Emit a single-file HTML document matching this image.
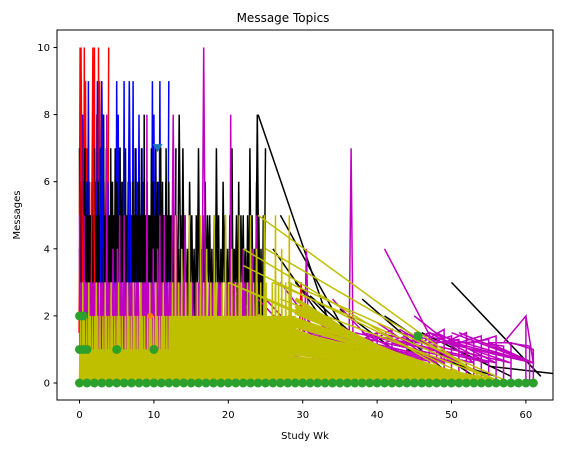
<!DOCTYPE html>
<html><head><meta charset="utf-8"><style>
body{margin:0;background:#fff;font-family:"Liberation Sans","DejaVu Sans",sans-serif}
svg text{font-family:"DejaVu Sans","Liberation Sans",sans-serif;font-size:10px;fill:#000}
</style></head><body>
<svg id="chart" width="566" height="453" xmlns="http://www.w3.org/2000/svg">
<rect width="566" height="453" fill="#fff"/>
<defs><clipPath id="clip"><rect x="57" y="30" width="496" height="370"/></clipPath></defs>
<g id="plot" clip-path="url(#clip)"></g>
<rect x="57" y="30" width="496" height="370" fill="none" stroke="#000" stroke-width="1"/>
<g id="axes"></g>
<text x="283" y="22" text-anchor="middle" style="font-size:12px">Message Topics</text>
<text x="305" y="439" text-anchor="middle">Study Wk</text>
<text x="20" y="215" text-anchor="middle" transform="rotate(-90 20 215)">Messages</text>
</svg>
<script>
const xTicks=[0,10,20,30,40,50,60];
const yTicks=[0,2,4,6,8,10];
const redY=[5,10,3,6,2,8,4,1,10,3,9,5,2,7,1,4,3,6,2,5,1,3,7,2];
const blueY=[4,2,9,1,8,3,6,2,5,4,6,3,9,2,5,1,4,3,5,2,6,1,4,3,9,2,5,3,7,2,6,4,8,3,5,2,7,1,6,3,5,2,4,6,3,5,2,4];
const blackY=[7,3,5,3,6,3,5,4,5,3,5,3,7,3,5,3,5,4,6,3,5,3,5,3,5,4,5,3,6,3,5,3,5,3,7,3,5,4,5,3,5,3,6,3,5,3,5,4,7,3,5,3,5,3,8,3,5,3,5,4,6,3,5,3,5,3,5,4,5,3,7,3,5,3,6,3,5,3,5,4,7,3,5,3,6,3,5,3,5,4,7];
const blackRightY=[5,2,4,1,5,2,7,3,5,1,4,2,6,3,5,2,4,1,5,3,7,2,4,3,5,1,6,2,5,3];
const magentaY=[5,1,3,0,3,1,2,0,3,1,5,0,3,1,2,0,3,1,3,0,2,1,3,0,2,3,0,3,1,2,0,3,1,3,0,2,1,3,0,2,3,0,3,1,2,0,1,3,0,3,2,3,0,2,1,3,0,3,1,2,0,8,1,3,0,3,1,2,0,3,1,3,0,2,1,4,0,3,1,2,0,3,1,3,0,4,1,2,0,3];
const yellowLeftY=[0,1,0,2,0,1,0,1,0,3,0,1,0,2,0,1,0,1,0,2,0,1,0,1,0,3,0,1,0,2,0,1,0,1,0,2,0,1,0,1,0,2,0,1,0,3,0,1,0,2,0,1,0,1,0,2,0,1,0,1];
const yellowRightY=[0,2,0,2,1,0,2,0,3,0,2,1,0,2,0,5,0,2,1,0,2,0,3,0,2,1,0,2,0,4,0,2,1,0,2,0,2,0,3,1,0,2,0,2,1,0,5,0,2,0,3,0,2,1,0,2];
const spikeX=[16.7,12.6,23.9,13.4,1.8,0.2,6.7,3.0,30.5,36.5,29.8];
const spikeY=[10,8,8,8,10,10,9,9,4,7,3];
const spikeC=['#bf00bf','#bf00bf','#000','#000','#f00','#f00','#00f','#00f','#bf00bf','#bf00bf','#f00'];
const fanStartY=[2.5,2.3,2.1,1.9,1.7,1.5,1.3,1.1,0.9,0.7,0.5,0.3,0.1,2.2,1.8,1.4,1.0,0.6,0.2];
const fanEndX=[47,50,52,54,55,56,57,57,57,57,57,57,57,49,51,53,55,56,57];
const tailStartX=[24,25,22,20,26,27,28,22,20];
const tailStartY=[5,4,4,3,3,2.5,3,3.5,3];
const tailEndX=[55,56,52,50,57,57,58,54,52];
const magTailX=[20,22,25,28,30,33,35,38,40,42,45,47,50,53,55,57,60,61,41,24,27,31,34,43,48];
const magTailY=[3,2,2.5,2,1.5,2,1.2,1.5,1.8,1.2,2,1.5,1.2,1,1.2,1,2,1,4,2.5,3,2,2.5,1.6,1.5];
const magVertX=[40,42,44,46,47,48,49,50,51,52,53,54,55,56,57,58,60,60.5,61];
const magVertY=[1.5,1.6,1.4,1.3,1.5,1.2,1.6,1.4,1.3,1.5,1.2,1.4,1.3,1.4,1.1,1.2,2,1.1,1];
const blackTailX=[24,26,29,33,38,41,46,50,44,39,55,27,31,35];
const blackTailY=[8,4,3,2,2.5,2,1.5,3,1,1.2,0.5,5,2.6,2.2];
const greenX=[0,1,2,3,4,5,6,7,8,9,10,11,12,13,14,15,16,17,18,19,20,21,22,23,24,25,26,27,28,29,30,31,32,33,34,35,36,37,38,39,40,41,42,43,44,45,46,47,48,49,50,51,52,53,54,55,56,57,58,59,60,61];
const greenExtraX=[0,0.5,1,0,0.5,5,10,45.5];
const greenExtraY=[1,1,1,2,2,1,1,1.4];

const sx=v=>79.5+v*7.44, sy=v=>383-v*33.55;
const NS="http://www.w3.org/2000/svg";
const plot=document.getElementById('plot'), axes=document.getElementById('axes');
function line(pts,color,name,w){
  const p=document.createElementNS(NS,'polyline');
  p.setAttribute('points',pts.map(q=>sx(q[0]).toFixed(1)+','+sy(q[1]).toFixed(1)).join(' '));
  p.setAttribute('fill','none');p.setAttribute('stroke',color);p.setAttribute('stroke-width',w||1.5);
  
  
  plot.appendChild(p);
}
function dense(ys,x0,x1,dx){const out=[];let i=0;for(let x=x0;x<=x1;x+=dx,i++)out.push([x,ys[i%ys.length]]);return out;}
line(dense(redY,0,4,0.08),'#ff0000','series-red');
line(dense(blueY,0,12,0.1),'#0000ff','series-blue');
line(dense(blackY,0,13,0.06),'#000000','series-black');
line(dense(blackRightY,13,25,0.15),'#000000','series-black-right');
blackTailX.forEach((x,i)=>line([[x,blackTailY[i]],[x+12,0.2]],'#000','series-black-tail',1.5));
spikeX.forEach((x,i)=>line([[x-0.25,1.5],[x,spikeY[i]],[x+0.25,1.5]],spikeC[i],'spike',1.5));
line(dense(magentaY,0,13,0.06),'#bf00bf','series-magenta');
line(dense(magentaY,13,24,0.12),'#bf00bf','series-magenta-right');
magTailX.forEach((x,i)=>line([[x,magTailY[i]],[Math.min(x+8,61),0.6],[x-10,1.5]],'#bf00bf','series-magenta-tail',1.5));
magVertX.forEach((x,i)=>line([[x,0],[x,magVertY[i]],[x-3,1.2]],'#bf00bf','magenta-vertical',1.5));
line(dense(yellowLeftY,0,12,0.05),'#bfbf00','series-yellow-left');
line(dense(yellowRightY,12,29,0.06),'#bfbf00','series-yellow-right');
fanStartY.forEach((y,i)=>line([[29,y],[fanEndX[i],0],[24,y*0.8]],'#bfbf00','yellow-fan',4));
tailStartX.forEach((x,i)=>line([[x,tailStartY[i]],[tailEndX[i],0]],'#bfbf00','series-yellow-tail',1.5));
line(greenX.map(x=>[x,0]),'#2ca02c','series-green',3);
greenX.concat(greenExtraX).forEach((x,i)=>{
  const c=document.createElementNS(NS,'circle');
  const y=i<greenX.length?0:greenExtraY[i-greenX.length];
  c.setAttribute('cx',sx(x));c.setAttribute('cy',sy(y));c.setAttribute('r',4.5);c.setAttribute('fill','#2ca02c');
  
  
  plot.appendChild(c);
});
const tri=document.createElementNS(NS,'path');
tri.setAttribute('d',`M${sx(10.5)-5},${sy(7)-4} h10 l-5,8 z`);tri.setAttribute('fill','#1f77b4');


plot.appendChild(tri);
const orng=document.createElementNS(NS,'circle');
orng.setAttribute('cx',sx(9.5));orng.setAttribute('cy',sy(2));orng.setAttribute('r',3);orng.setAttribute('fill','#ff7f0e');


plot.appendChild(orng);
xTicks.forEach(t=>{
  const x=sx(t);
  const l=document.createElementNS(NS,'line');
  l.setAttribute('x1',x);l.setAttribute('x2',x);l.setAttribute('y1',400);l.setAttribute('y2',403.5);l.setAttribute('stroke','#000');
  
  
  axes.appendChild(l);
  const tx=document.createElementNS(NS,'text');
  tx.setAttribute('x',x);tx.setAttribute('y',418);tx.setAttribute('text-anchor','middle');tx.textContent=t;
  
  
  axes.appendChild(tx);
});
yTicks.forEach(t=>{
  const y=sy(t);
  const l=document.createElementNS(NS,'line');
  l.setAttribute('x1',53.5);l.setAttribute('x2',57);l.setAttribute('y1',y);l.setAttribute('y2',y);l.setAttribute('stroke','#000');
  
  
  axes.appendChild(l);
  const tx=document.createElementNS(NS,'text');
  tx.setAttribute('x',50);tx.setAttribute('y',y+3.5);tx.setAttribute('text-anchor','end');tx.textContent=t;
  
  
  axes.appendChild(tx);
});
</script>
</body></html>
